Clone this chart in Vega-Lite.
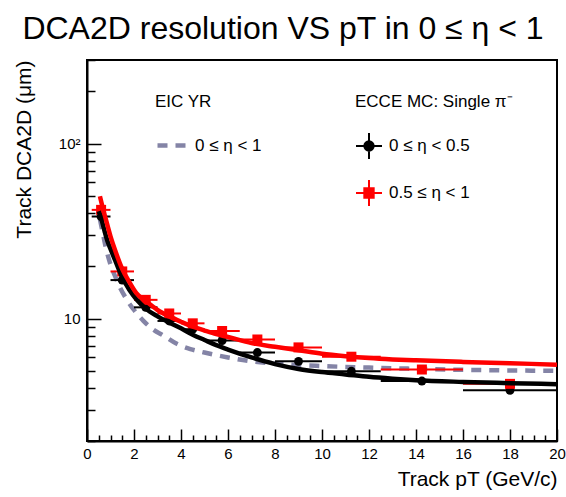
{
  "$schema": "https://vega.github.io/schema/vega-lite/v6.json",
  "width": 470,
  "height": 381,
  "autosize": {"type": "none"},
  "padding": {"left": 87, "top": 60, "right": 9, "bottom": 56},
  "background": "white",
  "title": {"text": "DCA2D resolution VS pT in 0 ≤ η < 1", "font": "Liberation Sans", "fontSize": 32, "fontWeight": "normal", "anchor": "middle", "dx": -39, "offset": 7, "color": "black"},
  "config": {
    "view": {"stroke": "black", "strokeWidth": 2},
    "font": "Liberation Sans",
    "legend": {"titleFont": "Liberation Sans", "labelFont": "Liberation Sans", "titleFontSize": 17, "labelFontSize": 17, "titleFontWeight": "normal", "titleColor": "black", "labelColor": "black", "padding": 0, "titlePadding": 19, "rowPadding": 21}
  },
  "datasets": {
    "yr": [
      {"label": "0 ≤ η < 1", "pt": 0.55, "dca": 37.0},
      {"label": "0 ≤ η < 1", "pt": 0.65, "dca": 31.9},
      {"label": "0 ≤ η < 1", "pt": 0.8, "dca": 25.5},
      {"label": "0 ≤ η < 1", "pt": 1.0, "dca": 20.4},
      {"label": "0 ≤ η < 1", "pt": 1.2, "dca": 17.4},
      {"label": "0 ≤ η < 1", "pt": 1.4, "dca": 15.1},
      {"label": "0 ≤ η < 1", "pt": 1.7, "dca": 12.8},
      {"label": "0 ≤ η < 1", "pt": 2.0, "dca": 11.2},
      {"label": "0 ≤ η < 1", "pt": 2.4, "dca": 9.7},
      {"label": "0 ≤ η < 1", "pt": 2.8, "dca": 8.7},
      {"label": "0 ≤ η < 1", "pt": 3.25, "dca": 8.0},
      {"label": "0 ≤ η < 1", "pt": 3.8, "dca": 7.2},
      {"label": "0 ≤ η < 1", "pt": 4.4, "dca": 6.7},
      {"label": "0 ≤ η < 1", "pt": 5.0, "dca": 6.4},
      {"label": "0 ≤ η < 1", "pt": 6.0, "dca": 6.0},
      {"label": "0 ≤ η < 1", "pt": 7.0, "dca": 5.7},
      {"label": "0 ≤ η < 1", "pt": 8.5, "dca": 5.48},
      {"label": "0 ≤ η < 1", "pt": 10, "dca": 5.36},
      {"label": "0 ≤ η < 1", "pt": 12, "dca": 5.25},
      {"label": "0 ≤ η < 1", "pt": 14, "dca": 5.17},
      {"label": "0 ≤ η < 1", "pt": 16, "dca": 5.1},
      {"label": "0 ≤ η < 1", "pt": 18, "dca": 5.06},
      {"label": "0 ≤ η < 1", "pt": 20, "dca": 5.03}
    ],
    "fits": [
      {"series": "0 ≤ η < 0.5", "pt": 0.5, "dca": 41},
      {"series": "0 ≤ η < 0.5", "pt": 0.6, "dca": 37.5},
      {"series": "0 ≤ η < 0.5", "pt": 0.75, "dca": 31.5},
      {"series": "0 ≤ η < 0.5", "pt": 0.9, "dca": 27},
      {"series": "0 ≤ η < 0.5", "pt": 1.0, "dca": 25},
      {"series": "0 ≤ η < 0.5", "pt": 1.2, "dca": 21.5},
      {"series": "0 ≤ η < 0.5", "pt": 1.5, "dca": 17.2},
      {"series": "0 ≤ η < 0.5", "pt": 1.8, "dca": 14.6},
      {"series": "0 ≤ η < 0.5", "pt": 2.1, "dca": 12.9},
      {"series": "0 ≤ η < 0.5", "pt": 2.5, "dca": 11.4},
      {"series": "0 ≤ η < 0.5", "pt": 3.0, "dca": 10.3},
      {"series": "0 ≤ η < 0.5", "pt": 3.5, "dca": 9.5},
      {"series": "0 ≤ η < 0.5", "pt": 4.0, "dca": 8.8},
      {"series": "0 ≤ η < 0.5", "pt": 4.5, "dca": 8.1},
      {"series": "0 ≤ η < 0.5", "pt": 5.0, "dca": 7.55},
      {"series": "0 ≤ η < 0.5", "pt": 5.5, "dca": 7.05},
      {"series": "0 ≤ η < 0.5", "pt": 6.0, "dca": 6.65},
      {"series": "0 ≤ η < 0.5", "pt": 7.0, "dca": 6.0},
      {"series": "0 ≤ η < 0.5", "pt": 8.0, "dca": 5.5},
      {"series": "0 ≤ η < 0.5", "pt": 9.0, "dca": 5.16},
      {"series": "0 ≤ η < 0.5", "pt": 10, "dca": 4.95},
      {"series": "0 ≤ η < 0.5", "pt": 11, "dca": 4.8},
      {"series": "0 ≤ η < 0.5", "pt": 12, "dca": 4.65},
      {"series": "0 ≤ η < 0.5", "pt": 13, "dca": 4.54},
      {"series": "0 ≤ η < 0.5", "pt": 14, "dca": 4.45},
      {"series": "0 ≤ η < 0.5", "pt": 16, "dca": 4.35},
      {"series": "0 ≤ η < 0.5", "pt": 18, "dca": 4.28},
      {"series": "0 ≤ η < 0.5", "pt": 20, "dca": 4.22},
      {"series": "0.5 ≤ η < 1", "pt": 0.55, "dca": 50},
      {"series": "0.5 ≤ η < 1", "pt": 0.65, "dca": 44},
      {"series": "0.5 ≤ η < 1", "pt": 0.8, "dca": 37},
      {"series": "0.5 ≤ η < 1", "pt": 1.0, "dca": 29.5},
      {"series": "0.5 ≤ η < 1", "pt": 1.2, "dca": 24.5},
      {"series": "0.5 ≤ η < 1", "pt": 1.5, "dca": 19.2},
      {"series": "0.5 ≤ η < 1", "pt": 1.8, "dca": 16.2},
      {"series": "0.5 ≤ η < 1", "pt": 2.1, "dca": 14.0},
      {"series": "0.5 ≤ η < 1", "pt": 2.5, "dca": 12.6},
      {"series": "0.5 ≤ η < 1", "pt": 3.0, "dca": 11.2},
      {"series": "0.5 ≤ η < 1", "pt": 3.5, "dca": 10.3},
      {"series": "0.5 ≤ η < 1", "pt": 4.0, "dca": 9.6},
      {"series": "0.5 ≤ η < 1", "pt": 4.5, "dca": 9.0},
      {"series": "0.5 ≤ η < 1", "pt": 5.0, "dca": 8.55},
      {"series": "0.5 ≤ η < 1", "pt": 5.5, "dca": 8.15},
      {"series": "0.5 ≤ η < 1", "pt": 6.0, "dca": 7.85},
      {"series": "0.5 ≤ η < 1", "pt": 7.0, "dca": 7.25},
      {"series": "0.5 ≤ η < 1", "pt": 8.0, "dca": 6.9},
      {"series": "0.5 ≤ η < 1", "pt": 9.0, "dca": 6.6},
      {"series": "0.5 ≤ η < 1", "pt": 10, "dca": 6.3},
      {"series": "0.5 ≤ η < 1", "pt": 11, "dca": 6.1},
      {"series": "0.5 ≤ η < 1", "pt": 12, "dca": 5.95},
      {"series": "0.5 ≤ η < 1", "pt": 13, "dca": 5.85},
      {"series": "0.5 ≤ η < 1", "pt": 14, "dca": 5.78},
      {"series": "0.5 ≤ η < 1", "pt": 16, "dca": 5.66},
      {"series": "0.5 ≤ η < 1", "pt": 18, "dca": 5.56},
      {"series": "0.5 ≤ η < 1", "pt": 20, "dca": 5.46}
    ],
    "points": [
      {"series": "0 ≤ η < 0.5", "lo": 0.2, "hi": 1, "pt": 0.6, "dca": 38.3},
      {"series": "0 ≤ η < 0.5", "lo": 1, "hi": 2, "pt": 1.5, "dca": 16.6},
      {"series": "0 ≤ η < 0.5", "lo": 2, "hi": 3, "pt": 2.5, "dca": 11.6},
      {"series": "0 ≤ η < 0.5", "lo": 3, "hi": 4, "pt": 3.5, "dca": 9.7},
      {"series": "0 ≤ η < 0.5", "lo": 4, "hi": 5, "pt": 4.5, "dca": 8.7},
      {"series": "0 ≤ η < 0.5", "lo": 5, "hi": 6.5, "pt": 5.75, "dca": 7.5},
      {"series": "0 ≤ η < 0.5", "lo": 6.5, "hi": 8, "pt": 7.25, "dca": 6.4},
      {"series": "0 ≤ η < 0.5", "lo": 8, "hi": 10, "pt": 9, "dca": 5.7},
      {"series": "0 ≤ η < 0.5", "lo": 10, "hi": 12.5, "pt": 11.25, "dca": 5.0},
      {"series": "0 ≤ η < 0.5", "lo": 12.5, "hi": 16, "pt": 14.25, "dca": 4.4},
      {"series": "0 ≤ η < 0.5", "lo": 16, "hi": 20, "pt": 18, "dca": 3.9},
      {"series": "0.5 ≤ η < 1", "lo": 0.2, "hi": 1, "pt": 0.6, "dca": 41.8},
      {"series": "0.5 ≤ η < 1", "lo": 1, "hi": 2, "pt": 1.5, "dca": 18.6},
      {"series": "0.5 ≤ η < 1", "lo": 2, "hi": 3, "pt": 2.5, "dca": 12.8},
      {"series": "0.5 ≤ η < 1", "lo": 3, "hi": 4, "pt": 3.5, "dca": 10.7},
      {"series": "0.5 ≤ η < 1", "lo": 4, "hi": 5, "pt": 4.5, "dca": 9.4},
      {"series": "0.5 ≤ η < 1", "lo": 5, "hi": 6.5, "pt": 5.75, "dca": 8.5},
      {"series": "0.5 ≤ η < 1", "lo": 6.5, "hi": 8, "pt": 7.25, "dca": 7.6},
      {"series": "0.5 ≤ η < 1", "lo": 8, "hi": 10, "pt": 9, "dca": 6.85},
      {"series": "0.5 ≤ η < 1", "lo": 10, "hi": 12.5, "pt": 11.25, "dca": 6.06},
      {"series": "0.5 ≤ η < 1", "lo": 12.5, "hi": 16, "pt": 14.25, "dca": 5.12},
      {"series": "0.5 ≤ η < 1", "lo": 16, "hi": 20, "pt": 18, "dca": 4.24}
    ]
  },
  "encoding": {
    "x": {"field": "pt", "type": "quantitative", "scale": {"domain": [0, 20], "nice": false, "zero": false},
      "axis": {"values": [0,0.5,1,1.5,2,2.5,3,3.5,4,4.5,5,5.5,6,6.5,7,7.5,8,8.5,9,9.5,10,10.5,11,11.5,12,12.5,13,13.5,14,14.5,15,15.5,16,16.5,17,17.5,18,18.5,19,19.5,20],
        "labelExpr": "datum.value % 2 === 0 ? datum.value : ''",
        "tickSize": {"condition": {"test": "datum.value % 2 === 0", "value": -12}, "value": -6},
        "tickColor": "black", "tickWidth": 1.5, "domainColor": "black", "domainWidth": 2, "grid": false,
        "labelFont": "Liberation Sans", "labelFontSize": 15, "labelColor": "black", "labelPadding": 17, "labelFlush": false, "labelOverlap": false,
        "title": "Track pT (GeV/c)", "titleFont": "Liberation Sans", "titleFontSize": 21, "titleFontWeight": "normal", "titleColor": "black", "titleAnchor": "end", "titlePadding": 1}},
    "y": {"field": "dca", "type": "quantitative", "scale": {"type": "log", "domain": [2, 300], "nice": false},
      "axis": {"values": [2,3,4,5,6,7,8,9,10,20,30,40,50,60,70,80,90,100,200,300],
        "labelExpr": "datum.value === 10 ? '10' : datum.value === 100 ? '10²' : ''",
        "tickSize": {"condition": {"test": "datum.value === 10 || datum.value === 100", "value": -14}, "value": -8},
        "tickColor": "black", "tickWidth": 1.5, "domainColor": "black", "domainWidth": 2, "grid": false,
        "labelFont": "Liberation Sans", "labelFontSize": 15, "labelColor": "black", "labelPadding": 21, "labelFlush": false, "labelOverlap": false,
        "title": "Track DCA2D (μm)", "titleFont": "Liberation Sans", "titleFontSize": 21, "titleFontWeight": "normal", "titleColor": "black", "titleAnchor": "end", "titlePadding": 24}}
  },
  "layer": [
    {
      "data": {"name": "yr"},
      "mark": {"type": "line", "strokeWidth": 4.5, "interpolate": "monotone", "strokeCap": "butt", "clip": true},
      "encoding": {
        "color": {"value": "#8484a6"},
        "strokeDash": {"field": "label", "type": "nominal", "scale": {"range": [[10, 8]]},
          "legend": {"title": "EIC YR", "orient": "none", "legendX": 68, "legendY": 34, "symbolType": "stroke", "symbolSize": 784, "symbolStrokeWidth": 4.5, "symbolDash": [10, 7], "symbolStrokeColor": "#8484a6", "labelOffset": 7, "titlePadding": 18}}
      }
    },
    {
      "data": {"name": "points"},
      "mark": {"type": "rule", "strokeWidth": 2},
      "encoding": {
        "x": {"field": "lo", "type": "quantitative"},
        "x2": {"field": "hi"},
        "color": {"field": "series", "type": "nominal", "scale": {"domain": ["0 ≤ η < 0.5", "0.5 ≤ η < 1"], "range": ["#000000", "#ff0000"]},
          "legend": {"title": "ECCE MC: Single π⁻", "orient": "none", "legendX": 268, "legendY": 34, "symbolSize": 676, "labelOffset": 6, "symbolStrokeWidth": 2, "titlePadding": 21, "rowPadding": 13,
            "symbolType": "M-1,0H1M0,-1V1M0.36,0A0.36,0.36,0,1,1,-0.36,0A0.36,0.36,0,1,1,0.36,0Z",
            "encode": {"symbols": {"update": {
              "shape": {"signal": "datum.index === 0 ? 'M-1,0H1M0,-1V1M0.36,0A0.36,0.36,0,1,1,-0.36,0A0.36,0.36,0,1,1,0.36,0Z' : 'M-1,0H1M0,-1V1M-0.36,-0.36H0.36V0.36H-0.36Z'"},
              "fill": {"signal": "datum.index === 0 ? '#000000' : '#ff0000'"},
              "stroke": {"signal": "datum.index === 0 ? '#000000' : '#ff0000'"},
              "strokeWidth": {"value": 2},
              "size": {"value": 676},
              "opacity": {"value": 1},
              "fillOpacity": {"value": 1},
              "strokeOpacity": {"value": 1}
            }}}}}
      }
    },
    {
      "data": {"name": "points"},
      "transform": [{"filter": "datum.series === '0 ≤ η < 0.5'"}],
      "mark": {"type": "point", "shape": "circle", "filled": true, "opacity": 1, "size": 80},
      "encoding": {
        "color": {"field": "series", "type": "nominal"}
      }
    },
    {
      "data": {"name": "points"},
      "transform": [{"filter": "datum.series === '0.5 ≤ η < 1'"}],
      "mark": {"type": "point", "shape": "square", "filled": true, "opacity": 1, "size": 100},
      "encoding": {
        "color": {"field": "series", "type": "nominal"}
      }
    },
    {
      "data": {"name": "fits"},
      "mark": {"type": "line", "strokeWidth": 4.5, "interpolate": "monotone", "clip": true},
      "encoding": {
        "color": {"field": "series", "type": "nominal"}
      }
    }
  ]
}
